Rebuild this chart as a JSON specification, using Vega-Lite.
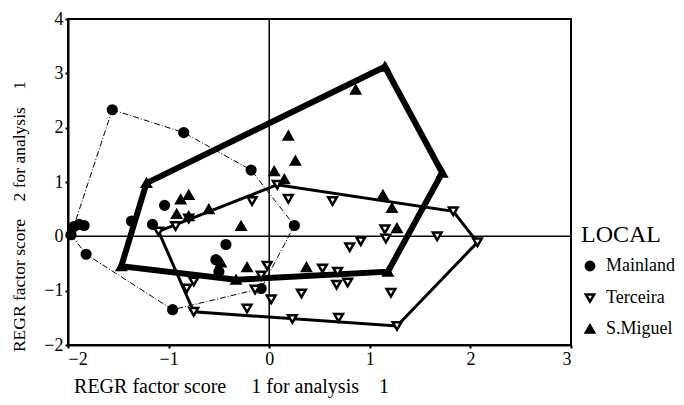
{
  "$schema": "https://vega.github.io/schema/vega-lite/v6.json",
  "width": 503,
  "height": 326,
  "autosize": {"type": "none"},
  "padding": {"left": 68, "top": 19, "right": 113, "bottom": 60},
  "background": "white",
  "config": {
    "font": "Liberation Serif",
    "view": {"stroke": "black", "strokeWidth": 2},
    "axis": {
      "grid": false,
      "domainColor": "black",
      "domainWidth": 2,
      "tickColor": "black",
      "tickWidth": 2,
      "tickSize": 3,
      "labelFont": "Liberation Serif",
      "labelColor": "black",
      "labelFontSize": 18,
      "labelPadding": 2,
      "titleFont": "Liberation Serif",
      "titleColor": "black",
      "titleFontWeight": "normal"
    },
    "legend": {
      "titleFont": "Liberation Serif",
      "titleFontWeight": "normal",
      "titleFontSize": 24,
      "titleColor": "black",
      "labelFont": "Liberation Serif",
      "labelFontSize": 18,
      "labelColor": "black",
      "symbolStrokeWidth": 2.5,
      "symbolSize": 70,
      "rowPadding": 13,
      "titlePadding": 10,
      "labelOffset": 7
    }
  },
  "datasets": {
    "pts": [
      {"x": -1.56, "y": 2.33, "LOCAL": "Mainland"},
      {"x": -0.85, "y": 1.91, "LOCAL": "Mainland"},
      {"x": -0.18, "y": 1.22, "LOCAL": "Mainland"},
      {"x": 0.25, "y": 0.2, "LOCAL": "Mainland"},
      {"x": -1.94, "y": 0.18, "LOCAL": "Mainland"},
      {"x": -1.89, "y": 0.22, "LOCAL": "Mainland"},
      {"x": -1.84, "y": 0.2, "LOCAL": "Mainland"},
      {"x": -1.97, "y": 0.03, "LOCAL": "Mainland"},
      {"x": -1.82, "y": -0.33, "LOCAL": "Mainland"},
      {"x": -0.96, "y": -1.35, "LOCAL": "Mainland"},
      {"x": -1.04, "y": 0.57, "LOCAL": "Mainland"},
      {"x": -1.16, "y": 0.22, "LOCAL": "Mainland"},
      {"x": -1.37, "y": 0.28, "LOCAL": "Mainland"},
      {"x": -0.43, "y": -0.15, "LOCAL": "Mainland"},
      {"x": -0.53, "y": -0.43, "LOCAL": "Mainland"},
      {"x": -0.5, "y": -0.65, "LOCAL": "Mainland"},
      {"x": -0.08, "y": -0.96, "LOCAL": "Mainland"},
      {"x": -0.17, "y": 0.65, "LOCAL": "Terceira"},
      {"x": 0.19, "y": 0.69, "LOCAL": "Terceira"},
      {"x": 0.08, "y": 0.95, "LOCAL": "Terceira"},
      {"x": -0.02, "y": -0.54, "LOCAL": "Terceira"},
      {"x": -0.08, "y": -0.72, "LOCAL": "Terceira"},
      {"x": -0.14, "y": -0.98, "LOCAL": "Terceira"},
      {"x": 0.02, "y": -1.16, "LOCAL": "Terceira"},
      {"x": -0.22, "y": -1.33, "LOCAL": "Terceira"},
      {"x": 0.23, "y": -1.52, "LOCAL": "Terceira"},
      {"x": 0.32, "y": -1.05, "LOCAL": "Terceira"},
      {"x": 0.53, "y": -0.59, "LOCAL": "Terceira"},
      {"x": 0.63, "y": 0.65, "LOCAL": "Terceira"},
      {"x": 1.15, "y": 0.13, "LOCAL": "Terceira"},
      {"x": 1.16, "y": -0.04, "LOCAL": "Terceira"},
      {"x": 0.91, "y": -0.09, "LOCAL": "Terceira"},
      {"x": 0.8, "y": -0.2, "LOCAL": "Terceira"},
      {"x": 1.67, "y": 0.0, "LOCAL": "Terceira"},
      {"x": 0.68, "y": -0.65, "LOCAL": "Terceira"},
      {"x": 0.67, "y": -0.89, "LOCAL": "Terceira"},
      {"x": 0.78, "y": -0.85, "LOCAL": "Terceira"},
      {"x": 1.21, "y": -1.04, "LOCAL": "Terceira"},
      {"x": 0.69, "y": -1.5, "LOCAL": "Terceira"},
      {"x": 1.27, "y": -1.65, "LOCAL": "Terceira"},
      {"x": 1.83, "y": 0.46, "LOCAL": "Terceira"},
      {"x": 2.07, "y": -0.11, "LOCAL": "Terceira"},
      {"x": -0.93, "y": 0.19, "LOCAL": "Terceira"},
      {"x": -0.75, "y": -0.83, "LOCAL": "Terceira"},
      {"x": -0.82, "y": -0.96, "LOCAL": "Terceira"},
      {"x": -0.75, "y": -1.39, "LOCAL": "Terceira"},
      {"x": -1.1, "y": 0.09, "LOCAL": "Terceira"},
      {"x": -0.8, "y": 0.33, "LOCAL": "Terceira"},
      {"x": 1.15, "y": 3.12, "LOCAL": "S.Miguel"},
      {"x": 0.86, "y": 2.7, "LOCAL": "S.Miguel"},
      {"x": 0.19, "y": 1.85, "LOCAL": "S.Miguel"},
      {"x": 0.26, "y": 1.39, "LOCAL": "S.Miguel"},
      {"x": 0.05, "y": 1.2, "LOCAL": "S.Miguel"},
      {"x": 0.15, "y": 1.05, "LOCAL": "S.Miguel"},
      {"x": 1.72, "y": 1.17, "LOCAL": "S.Miguel"},
      {"x": 1.13, "y": 0.76, "LOCAL": "S.Miguel"},
      {"x": 1.22, "y": 0.52, "LOCAL": "S.Miguel"},
      {"x": 1.27, "y": 0.15, "LOCAL": "S.Miguel"},
      {"x": 1.18, "y": -0.65, "LOCAL": "S.Miguel"},
      {"x": -0.28, "y": 0.19, "LOCAL": "S.Miguel"},
      {"x": -0.22, "y": -0.57, "LOCAL": "S.Miguel"},
      {"x": 0.37, "y": -0.57, "LOCAL": "S.Miguel"},
      {"x": -0.48, "y": -0.48, "LOCAL": "S.Miguel"},
      {"x": -0.33, "y": -0.8, "LOCAL": "S.Miguel"},
      {"x": -0.88, "y": 0.68, "LOCAL": "S.Miguel"},
      {"x": -0.8, "y": 0.76, "LOCAL": "S.Miguel"},
      {"x": -0.92, "y": 0.41, "LOCAL": "S.Miguel"},
      {"x": -0.8, "y": 0.37, "LOCAL": "S.Miguel"},
      {"x": -0.6, "y": 0.5, "LOCAL": "S.Miguel"},
      {"x": -1.22, "y": 0.98, "LOCAL": "S.Miguel"},
      {"x": -1.47, "y": -0.55, "LOCAL": "S.Miguel"}
    ],
    "hullM": [
      {"x": -1.56, "y": 2.33, "ord": 1},
      {"x": -0.85, "y": 1.91, "ord": 2},
      {"x": -0.18, "y": 1.22, "ord": 3},
      {"x": 0.25, "y": 0.2, "ord": 4},
      {"x": -0.08, "y": -0.96, "ord": 5},
      {"x": -0.96, "y": -1.35, "ord": 6},
      {"x": -1.82, "y": -0.33, "ord": 7},
      {"x": -1.97, "y": 0.03, "ord": 8},
      {"x": -1.56, "y": 2.33, "ord": 9}
    ],
    "hullT": [
      {"x": -1.1, "y": 0.09, "ord": 1},
      {"x": 0.08, "y": 0.95, "ord": 2},
      {"x": 1.83, "y": 0.46, "ord": 3},
      {"x": 2.07, "y": -0.11, "ord": 4},
      {"x": 1.27, "y": -1.65, "ord": 5},
      {"x": -0.75, "y": -1.39, "ord": 6},
      {"x": -1.1, "y": 0.09, "ord": 7}
    ],
    "hullS": [
      {"x": -1.22, "y": 0.98, "ord": 1},
      {"x": 1.15, "y": 3.12, "ord": 2},
      {"x": 1.72, "y": 1.17, "ord": 3},
      {"x": 1.18, "y": -0.65, "ord": 4},
      {"x": -0.33, "y": -0.8, "ord": 5},
      {"x": -1.47, "y": -0.55, "ord": 6},
      {"x": -1.22, "y": 0.98, "ord": 7}
    ],
    "zero": [{"v": 0}]
  },
  "layer": [
    {
      "data": {"name": "zero"},
      "mark": {"type": "rule", "color": "black", "strokeWidth": 1.5},
      "encoding": {"x": {"field": "v", "type": "quantitative"}}
    },
    {
      "data": {"name": "zero"},
      "mark": {"type": "rule", "color": "black", "strokeWidth": 1.5},
      "encoding": {"y": {"field": "v", "type": "quantitative"}}
    },
    {
      "data": {"name": "hullM"},
      "mark": {"type": "line", "color": "black", "strokeWidth": 1, "strokeDash": [6, 2, 1, 2]},
      "encoding": {
        "x": {"field": "x", "type": "quantitative"},
        "y": {"field": "y", "type": "quantitative"},
        "order": {"field": "ord"}
      }
    },
    {
      "data": {"name": "hullT"},
      "mark": {"type": "line", "color": "black", "strokeWidth": 3, "strokeJoin": "miter"},
      "encoding": {
        "x": {"field": "x", "type": "quantitative"},
        "y": {"field": "y", "type": "quantitative"},
        "order": {"field": "ord"}
      }
    },
    {
      "data": {"name": "hullS"},
      "mark": {"type": "line", "color": "black", "strokeWidth": 6, "strokeJoin": "miter"},
      "encoding": {
        "x": {"field": "x", "type": "quantitative"},
        "y": {"field": "y", "type": "quantitative"},
        "order": {"field": "ord"}
      }
    },
    {
      "data": {"name": "pts"},
      "mark": {"type": "point", "filled": false, "opacity": 1, "stroke": "black", "strokeWidth": 2.5, "size": 75},
      "encoding": {
        "x": {
          "field": "x",
          "type": "quantitative",
          "scale": {"domain": [-2, 3], "nice": false, "zero": false},
          "axis": {
            "values": [-2, -1, 0, 1, 2, 3],
            "format": "d",
            "title": "REGR factor score\u00a0\u00a0\u00a0\u00a0 1 for analysis\u00a0\u00a0\u00a0 1",
            "titleFontSize": 20,
            "titleAlign": "center",
            "titleX": 163,
            "titleY": 47,
            "titleBaseline": "alphabetic"
          }
        },
        "y": {
          "field": "y",
          "type": "quantitative",
          "scale": {"domain": [-2, 4], "nice": false, "zero": false},
          "axis": {
            "values": [-2, -1, 0, 1, 2, 3, 4],
            "format": "d",
            "title": "REGR factor score\u00a0\u00a0\u00a0 2 for analysis\u00a0\u00a0\u00a0 1",
            "titleFontSize": 17.5,
            "titleAlign": "center",
            "titleX": -44,
            "titleY": 197,
            "titleBaseline": "alphabetic"
          }
        },
        "shape": {
          "field": "LOCAL",
          "type": "nominal",
          "scale": {"domain": ["Mainland", "Terceira", "S.Miguel"], "range": ["circle", "triangle-down", "triangle-up"]},
          "legend": {"orient": "none", "legendX": 513, "legendY": 204, "title": "LOCAL"}
        },
        "fill": {
          "field": "LOCAL",
          "type": "nominal",
          "scale": {"domain": ["Mainland", "Terceira", "S.Miguel"], "range": ["black", "white", "black"]},
          "legend": {"orient": "none", "legendX": 513, "legendY": 204, "title": "LOCAL"}
        }
      }
    }
  ]
}
